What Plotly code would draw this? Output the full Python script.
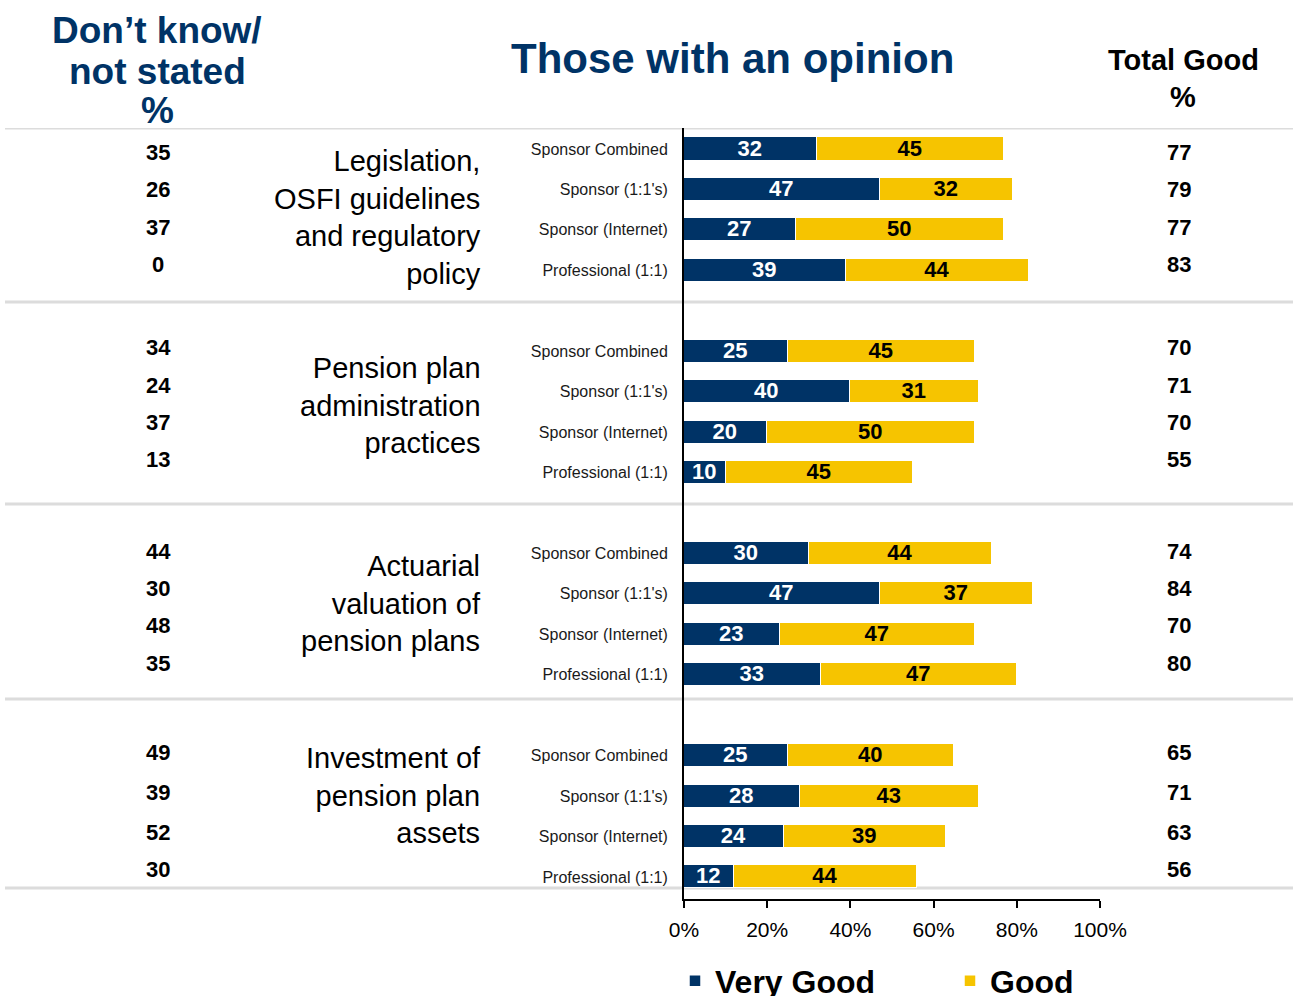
import plotly.graph_objects as go

# ---- data -------------------------------------------------------------
groups = [
    "Legislation,<br>OSFI guidelines<br>and regulatory<br>policy",
    "Pension plan<br>administration<br>practices",
    "Actuarial<br>valuation of<br>pension plans",
    "Investment of<br>pension plan<br>assets",
]
segments = ["Sponsor Combined", "Sponsor (1:1's)", "Sponsor (Internet)", "Professional (1:1)"]

very_good = [32, 47, 27, 39,
             25, 40, 20, 10,
             30, 47, 23, 33,
             25, 28, 24, 12]
good = [45, 32, 50, 44,
        45, 31, 50, 45,
        44, 37, 47, 47,
        40, 43, 39, 44]
dont_know = [35, 26, 37, 0,
             34, 24, 37, 13,
             44, 30, 48, 35,
             49, 39, 52, 30]
total_good = [77, 79, 77, 83,
              70, 71, 70, 55,
              74, 84, 70, 80,
              65, 71, 63, 56]

x_ticks = [0, 20, 40, 60, 80, 100]
x_tick_labels = [f"{v}%" for v in x_ticks]

# ---- styling ----------------------------------------------------------
NAVY = "#003366"
GOLD = "#F6C400"
FONT = "Liberation Sans, Arial, sans-serif"

W, H = 1293, 996
PL, PR, PT, PB = 684, 1100, 128, 899      # plot area in pixels
ROW = 40.44                              # pixel pitch of one row
Y0 = 149                                 # pixel centre of first row

def py(p):
    """pixel row -> y data coordinate"""
    return (p - Y0) / ROW

def px(p):
    """pixel column -> x paper coordinate"""
    return (p - PL) / (PR - PL)

def pyp(p):
    """pixel row -> y paper coordinate"""
    return (PB - p) / (PB - PT)

# row positions: 4 bars per group, one empty row between groups
ypos = [g * 5 + i for g in range(len(groups)) for i in range(len(segments))]
ylabels = segments * len(groups)

bar_common = dict(orientation="h", width=0.57, textposition="inside",
                  insidetextanchor="middle", constraintext="none",
                  textangle=0, texttemplate="%{text}", hoverinfo="skip")

fig = go.Figure()
fig.add_bar(
    y=ypos, x=very_good, name="Very Good", text=very_good,
    marker=dict(color=NAVY, line=dict(color="white", width=1.5)),
    textfont=dict(family=FONT, size=22, color="white", weight="bold"),
    **bar_common,
)
fig.add_bar(
    y=ypos, x=good, name="Good", text=good,
    marker=dict(color=GOLD, line=dict(color="white", width=1.5)),
    textfont=dict(family=FONT, size=22, color="black", weight="bold"),
    **bar_common,
)

# separator lines spanning the whole width
for p in [128, 302, 504, 699, 888]:
    fig.add_shape(type="line", xref="paper", yref="y",
                  x0=px(5), x1=px(1293), y0=py(p), y1=py(p),
                  line=dict(color="#DCDCDC", width=3), layer="below")

ann = []
# side columns: don't know (left) and total good (right)
side_rows = [[152, 189, 227, 264], [347, 385, 422, 459],
             [551, 588, 625, 663], [752, 792, 832, 869]]
k = 0
for g, rows in enumerate(side_rows):
    for p in rows:
        ann.append(dict(x=px(158), y=py(p), xref="paper", yref="y",
                        xanchor="center", yanchor="middle",
                        text=str(dont_know[k]), showarrow=False,
                        font=dict(family=FONT, size=22, color="black", weight="bold")))
        ann.append(dict(x=px(1179), y=py(p), xref="paper", yref="y",
                        xanchor="center", yanchor="middle",
                        text=str(total_good[k]), showarrow=False,
                        font=dict(family=FONT, size=22, color="black", weight="bold")))
        k += 1

# group titles
for name, p in zip(groups, [217, 405, 603, 795]):
    ann.append(dict(x=px(483), y=py(p), xref="paper", yref="y",
                    text=name, showarrow=False, xanchor="right", align="right",
                    yanchor="middle",
                    font=dict(family=FONT, size=29, color="black")))

# column headers
for line, p in zip(["Don’t know/", "not stated", "%"], [30, 71, 110]):
    ann.append(dict(x=px(157), y=pyp(p), xref="paper", yref="paper",
                    xanchor="center", yanchor="middle",
                    text=line, showarrow=False,
                    font=dict(family=FONT, size=37, color=NAVY, weight="bold")))
ann.append(dict(x=px(732), y=pyp(58), xref="paper", yref="paper",
                xanchor="center", yanchor="middle",
                text="Those with an opinion", showarrow=False,
                font=dict(family=FONT, size=42, color=NAVY, weight="bold")))
for line, p in zip(["Total Good", "%"], [60, 97]):
    ann.append(dict(x=px(1183), y=pyp(p), xref="paper", yref="paper",
                    xanchor="center", yanchor="middle",
                    text=line, showarrow=False,
                    font=dict(family=FONT, size=29, color="black", weight="bold")))

fig.update_layout(
    width=W, height=H,
    margin=dict(l=PL, r=W - PR, t=PT, b=H - PB, autoexpand=False),
    barmode="stack", bargap=0,
    plot_bgcolor="white", paper_bgcolor="white",
    font=dict(family=FONT, color="black"),
    annotations=ann,
    showlegend=True,
    legend=dict(orientation="h", x=px(675), xanchor="left",
                y=pyp(981), yanchor="middle",
                font=dict(family=FONT, size=32, color="black", weight="bold"),
                entrywidth=230, entrywidthmode="pixels",
                bgcolor="rgba(0,0,0,0)", traceorder="normal"),
    xaxis=dict(range=[0, 100], tickvals=x_ticks, ticktext=x_tick_labels,
               showgrid=False, zeroline=False, showline=True,
               linecolor="black", linewidth=2, ticks="outside",
               ticklen=7, tickwidth=2, tickcolor="black",
               ticklabelstandoff=4,
               tickfont=dict(family=FONT, size=21, color="black")),
    yaxis=dict(range=[py(PB), py(PT)], tickvals=ypos, ticktext=ylabels,
               showgrid=False, zeroline=False, showline=True,
               linecolor="black", linewidth=2, ticks="",
               ticklabelstandoff=11,
               tickfont=dict(family=FONT, size=16, color="#1a1a1a")),
)

fig.write_html("out.html")
